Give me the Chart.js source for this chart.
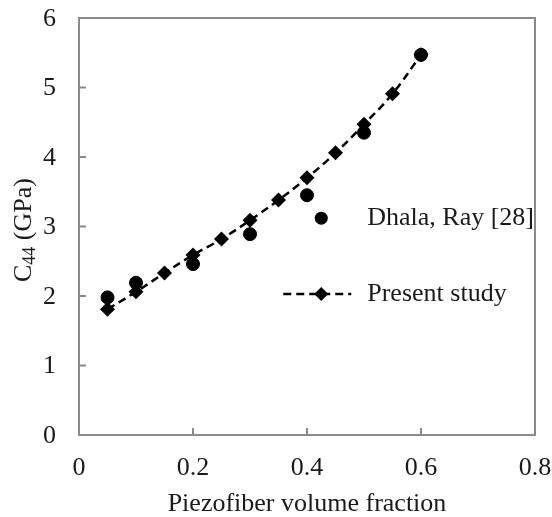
<!DOCTYPE html>
<html lang="en">
<head>
    <meta charset="UTF-8">
    <title>C44 vs piezofiber volume fraction</title>
    <script src="https://cdn.jsdelivr.net/npm/chart.js"></script>
    <style>
        body { margin: 0; padding: 0; background: #fff; }
        #wrap { width: 552px; height: 517px; position: relative; }
    </style>
</head>
<body>
    <div id="wrap"><canvas id="chart"></canvas></div>
    <script>
        // Data
        var dhalaX = [0.05, 0.1, 0.2, 0.3, 0.4, 0.5, 0.6];
        var dhalaY = [1.98, 2.19, 2.46, 2.89, 3.45, 4.35, 5.47];
        var presentX = [0.05, 0.1, 0.15, 0.2, 0.25, 0.3, 0.35, 0.4, 0.45, 0.5, 0.55, 0.6];
        var presentY = [1.81, 2.06, 2.33, 2.59, 2.82, 3.09, 3.38, 3.70, 4.06, 4.47, 4.91, 5.47];
        var xTicks = [0, 0.2, 0.4, 0.6, 0.8];
        var yTicks = [0, 1, 2, 3, 4, 5, 6];

        var FONT = '"Liberation Serif", "Times New Roman", serif';
        var AXIS = '#8a8a8a';
        var TEXT = '#1a1a1a';

        function toPoints(xs, ys) {
            return xs.map(function (x, i) { return { x: x, y: ys[i] }; });
        }

        // frame, inner ticks, tick labels, axis titles and the legend
        var decor = {
            id: 'decor',
            afterDraw: function (chart) {
                var ctx = chart.ctx;
                var a = chart.chartArea;
                var xs = chart.scales.x, ys = chart.scales.y;
                ctx.save();
                ctx.strokeStyle = AXIS;
                ctx.lineWidth = 2;
                ctx.strokeRect(a.left, a.top, a.right - a.left, a.bottom - a.top);
                ctx.beginPath();
                xTicks.forEach(function (v) {
                    var px = xs.getPixelForValue(v);
                    ctx.moveTo(px, a.bottom);
                    ctx.lineTo(px, a.bottom - 7);
                });
                yTicks.forEach(function (v) {
                    var py = ys.getPixelForValue(v);
                    ctx.moveTo(a.left, py);
                    ctx.lineTo(a.left + 7, py);
                });
                ctx.stroke();

                // tick labels
                ctx.fillStyle = TEXT;
                ctx.font = '26px ' + FONT;
                ctx.textBaseline = 'middle';
                ctx.textAlign = 'center';
                xTicks.forEach(function (v) {
                    ctx.fillText(String(parseFloat(v.toFixed(1))), xs.getPixelForValue(v), a.bottom + 33);
                });
                ctx.textAlign = 'right';
                yTicks.forEach(function (v) {
                    ctx.fillText(String(v), a.left - 23, ys.getPixelForValue(v) + 1);
                });

                // x axis title
                ctx.textAlign = 'center';
                ctx.fillText('Piezofiber volume fraction', (a.left + a.right) / 2, a.bottom + 69);

                // y axis title: C44 (GPa)
                ctx.save();
                ctx.translate(24, 230);
                ctx.rotate(-Math.PI / 2);
                ctx.textAlign = 'left';
                ctx.font = '26px ' + FONT;
                var w1 = ctx.measureText('C').width;
                var w3 = ctx.measureText(' (GPa)').width;
                ctx.font = '18px ' + FONT;
                var w2 = ctx.measureText('44').width;
                var start = -(w1 + w2 + w3) / 2;
                ctx.font = '26px ' + FONT;
                ctx.fillText('C', start, 0);
                ctx.fillText(' (GPa)', start + w1 + w2, 0);
                ctx.font = '18px ' + FONT;
                ctx.fillText('44', start + w1, 6);
                ctx.restore();

                // legend
                var ds = chart.data.datasets;
                var lx = xs.getPixelForValue(0.425);
                var ly1 = ys.getPixelForValue(3.12);
                var ly2 = ys.getPixelForValue(2.03);
                ctx.fillStyle = '#000';
                ctx.beginPath();
                ctx.arc(lx, ly1, 6.5, 0, Math.PI * 2);
                ctx.fill();
                ctx.strokeStyle = '#000';
                ctx.lineWidth = 2.5;
                ctx.setLineDash([8, 5]);
                ctx.beginPath();
                ctx.moveTo(lx - 38, ly2);
                ctx.lineTo(lx + 30, ly2);
                ctx.stroke();
                ctx.setLineDash([]);
                ctx.beginPath();
                ctx.moveTo(lx, ly2 - 7);
                ctx.lineTo(lx + 7, ly2);
                ctx.lineTo(lx, ly2 + 7);
                ctx.lineTo(lx - 7, ly2);
                ctx.closePath();
                ctx.fill();
                ctx.fillStyle = TEXT;
                ctx.font = '26px ' + FONT;
                ctx.textAlign = 'left';
                ctx.fillText(ds[0].label, lx + 46, ly1);
                ctx.fillText(ds[1].label, lx + 46, ly2);
                ctx.restore();
            }
        };

        var ctx = document.getElementById('chart').getContext('2d');
        var chart = new Chart(ctx, {
            type: 'scatter',
            data: {
                datasets: [{
                    label: 'Dhala, Ray [28]',
                    data: toPoints(dhalaX, dhalaY),
                    showLine: false,
                    pointStyle: 'circle',
                    pointRadius: 6.5,
                    backgroundColor: '#000',
                    borderColor: '#000'
                }, {
                    label: 'Present study',
                    data: toPoints(presentX, presentY),
                    showLine: true,
                    borderColor: '#000',
                    backgroundColor: '#000',
                    borderWidth: 2.5,
                    borderDash: [8, 5],
                    pointStyle: 'rectRot',
                    pointRadius: 7.5,
                    pointBorderWidth: 0,
                    tension: 0.4
                }]
            },
            options: {
                responsive: true,
                maintainAspectRatio: false,
                animation: false,
                layout: { padding: { top: 18, right: 17, left: 0, bottom: 0 } },
                plugins: {
                    legend: { display: false },
                    tooltip: { enabled: false }
                },
                scales: {
                    x: {
                        type: 'linear',
                        min: 0,
                        max: 0.8,
                        afterFit: function (s) { s.height = 82; },
                        grid: { display: false, drawTicks: false },
                        border: { display: false },
                        ticks: { display: false }
                    },
                    y: {
                        type: 'linear',
                        min: 0,
                        max: 6,
                        afterFit: function (s) { s.width = 79; },
                        grid: { display: false, drawTicks: false },
                        border: { display: false },
                        ticks: { display: false }
                    }
                }
            },
            plugins: [decor]
        });
    </script>
</body>
</html>
